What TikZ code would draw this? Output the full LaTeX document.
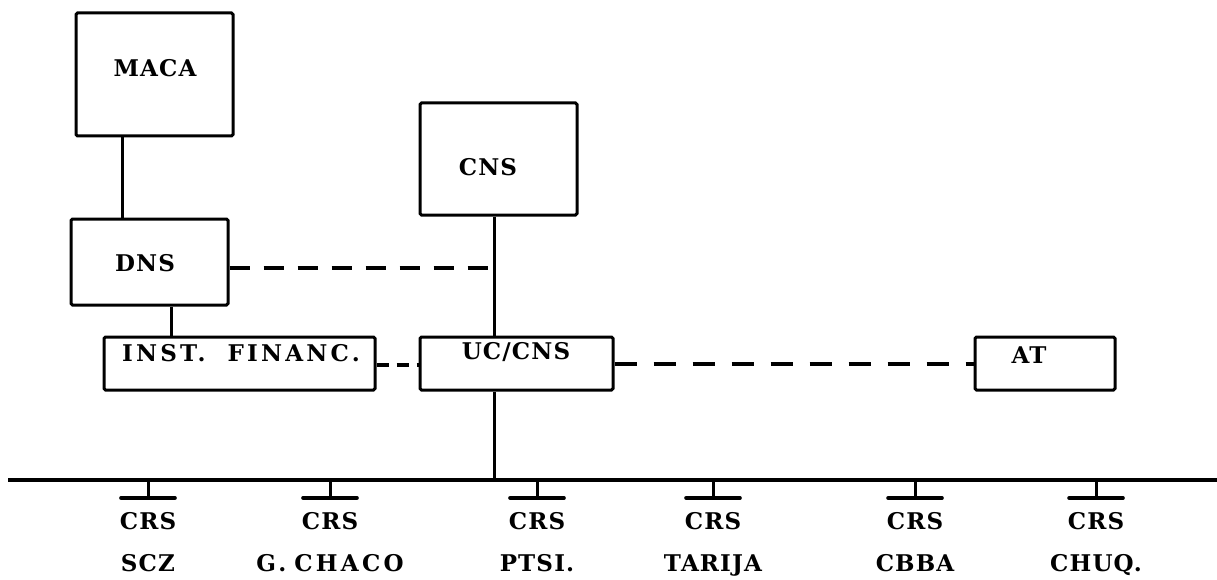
\documentclass[tikz,border=0pt]{standalone}
\usepackage{fontspec}
\newfontfamily\lblfont[LetterSpace=5]{DejaVu Serif}
\newfontfamily\widefont[LetterSpace=14]{DejaVu Serif}
\usetikzlibrary{calc}
\begin{document}
\begin{tikzpicture}[x=1pt,y=-1pt,
  lbl/.style={font=\lblfont\fontsize{23}{26}\selectfont\bfseries},
  wlbl/.style={font=\widefont\fontsize{23}{26}\selectfont\bfseries},
  box/.style={draw,line width=3pt,rounded corners=1.5pt,inner sep=0pt,lbl},
  ln/.style={line width=3pt},
  dsh/.style={line width=3.2pt,dash pattern=on 20pt off 14pt},
  tap/.style={line width=3.6pt,line cap=round}]
\useasboundingbox (0,0) rectangle (1217,580);
% boxes
\node[box,minimum width=157pt,minimum height=123pt] (maca) at (154.5,74.5) {};
\node[lbl] (macat) at (155,68) {MACA};
\node[box,minimum width=157pt,minimum height=86pt] (dns) at (149.5,262) {};
\node[lbl] (dnst) at (145,263) {DNS};
\node[box,minimum width=157pt,minimum height=112pt] (cns) at (498.5,159) {};
\node[lbl] (cnst) at (488,167) {CNS};
\node[box,minimum width=271pt,minimum height=53pt] (inst) at (239.5,363.5) {};
\node[wlbl] (instt) at (241,353) {INST.\hspace{22pt}FINANC.};
\node[box,minimum width=193pt,minimum height=53pt] (uc) at (516.5,363.5) {};
\node[lbl] (uct) at (516,352) {UC/CNS};
\node[box,minimum width=140pt,minimum height=53pt] (at) at (1045,363.5) {};
\node[lbl] (att) at (1029,355) {AT};
% solid connectors
\draw[ln] ([xshift=48pt]maca.south west) -- ([xshift=53pt]dns.north west);
\draw[ln] ([xshift=102pt]dns.south west) -- ([xshift=69pt]inst.north west);
\coordinate (cnsx) at ($(cns.south west)+(76,0)$);
\draw[ln] (cnsx) -- (cnsx |- uc.north);
% dashed connectors
\draw[dsh] (dns.east |- 0,268) -- (cnsx |- 0,268);
\draw[dsh,dash pattern=on 12pt off 8pt] (inst.east |- 0,365) -- (uc.west |- 0,365);
\draw[dsh,dash pattern=on 22pt off 17pt] (uc.east |- 0,364) -- (at.west |- 0,364);
% bus
\coordinate (busL) at (8,480);
\coordinate (busR) at (1217,480);
\draw[line width=3.4pt] (busL) -- (busR);
\draw[ln] (cnsx |- uc.south) -- (cnsx |- busL);
% taps
\foreach \x/\n/\name/\st in {148/scz/SCZ/lbl,330/gch/G.\hspace{8pt}CHACO/wlbl,537/pts/PTSI./lbl,713/tar/TARIJA/lbl,915/cbb/CBBA/lbl,1096/chu/CHUQ./lbl}{
  \coordinate (t\n) at (\x,480);
  \coordinate (b\n) at (\x,498);
  \draw[ln] (t\n) -- (b\n);
  \draw[tap] ($(b\n)+(-27,0)$) -- ($(b\n)+(27,0)$);
  \node[lbl,anchor=base] (c\n) at (\x,529) {CRS};
  \node[\st,anchor=base] (l\n) at (\x,571) {\name};
}
\end{tikzpicture}
\end{document}
